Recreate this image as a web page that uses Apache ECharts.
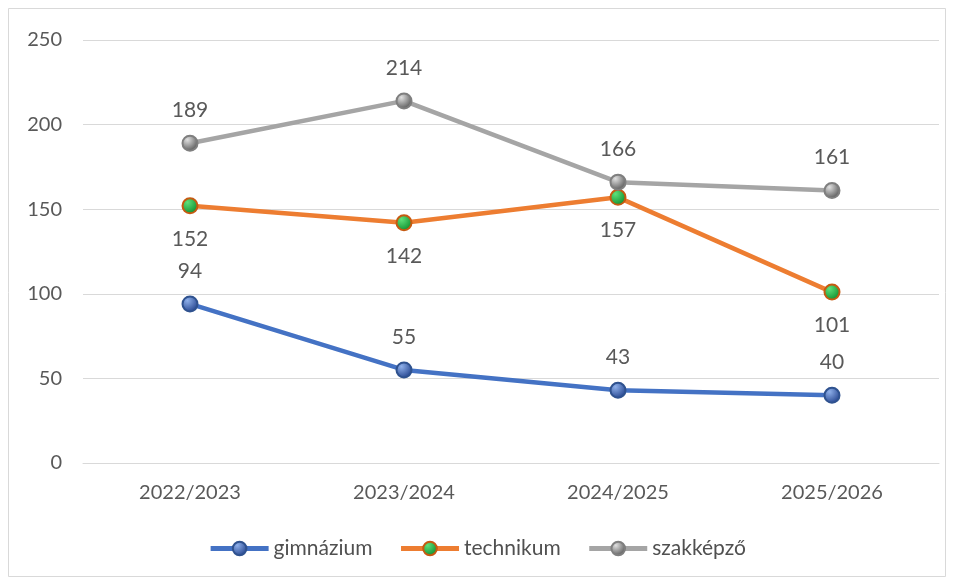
<!DOCTYPE html>
<html>
<head>
<meta charset="utf-8">
<script src="https://cdn.jsdelivr.net/npm/echarts@6/dist/echarts.min.js"></script>
<style>
  html, body { margin: 0; padding: 0; background: #fff; }
  #chart { width: 954px; height: 580px; }
</style>
</head>
<body>
<div id="chart"></div>
<script>
// tanévek
const categories = ['2022/2023', '2023/2024', '2024/2025', '2025/2026'];
const gimnazium = [94, 55, 43, 40];
const technikum = [152, 142, 157, 101];
const szakkepzo = [189, 214, 166, 161];
const yTicks = { min: 0, max: 250, interval: 50 };

const FONT = 'Lato, "Liberation Sans", sans-serif';
const TEXT = '#595959';

// gömb hatású marker
function sphere(light, dark) {
  return {
    type: 'radial', x: 0.35, y: 0.3, r: 0.75,
    colorStops: [
      { offset: 0, color: light },
      { offset: 1, color: dark }
    ]
  };
}

function makeSeries(name, data, lineColor, markerFill, borderColor, labelPos) {
  return {
    name: name,
    type: 'line',
    data: data,
    symbol: 'circle',
    symbolSize: 15,
    lineStyle: { color: lineColor, width: 4.5 },
    itemStyle: { color: markerFill, borderColor: borderColor, borderWidth: 2 },
    label: {
      show: true,
      position: labelPos,
      distance: 14,
      color: TEXT,
      fontSize: 21,
      fontFamily: FONT
    },
    emphasis: { disabled: true },
    z: 3
  };
}

let chart = echarts.init(document.getElementById('chart'));
let options = {
  animation: false,
  backgroundColor: '#fff',
  graphic: [{
    type: 'rect',
    shape: { x: 8.5, y: 8.5, width: 937, height: 568 },
    style: { fill: 'none', stroke: '#d9d9d9', lineWidth: 1 },
    silent: true
  }],
  grid: { left: 83, right: 15, top: 40, bottom: 117, containLabel: false },
  legend: {
    bottom: 16,
    left: 'center',
    itemWidth: 58,
    itemHeight: 17,
    itemGap: 26,
    lineStyle: { width: 5 },
    textStyle: { color: '#505050', fontSize: 21, fontFamily: FONT },
    data: ['gimnázium', 'technikum', 'szakképző']
  },
  xAxis: {
    type: 'category',
    data: categories,
    boundaryGap: true,
    axisLine: { lineStyle: { color: '#d9d9d9', width: 1 } },
    axisTick: { show: false },
    axisLabel: { color: TEXT, fontSize: 20, fontFamily: FONT, margin: 20 }
  },
  yAxis: {
    type: 'value',
    min: yTicks.min,
    max: yTicks.max,
    interval: yTicks.interval,
    axisLine: { show: false },
    axisTick: { show: false },
    splitLine: { lineStyle: { color: '#d9d9d9', width: 1 } },
    axisLabel: { color: TEXT, fontSize: 20, fontFamily: FONT, margin: 21 }
  },
  series: [
    makeSeries('gimnázium', gimnazium, '#4472C4', sphere('#8fb0ea', '#1f3f8a'), '#2f528f', 'top'),
    makeSeries('technikum', technikum, '#ED7D31', sphere('#5fe07a', '#0a8a2a'), '#c55a11', 'bottom'),
    makeSeries('szakképző', szakkepzo, '#A5A5A5', sphere('#e0e0e0', '#505050'), '#7f7f7f', 'top')
  ]
};
chart.setOption(options);
</script>
</body>
</html>
